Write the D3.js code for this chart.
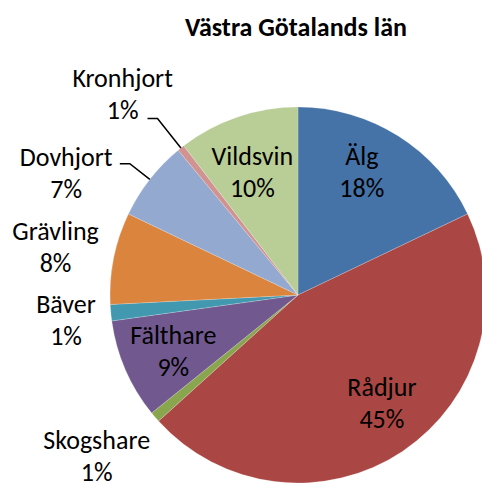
<!DOCTYPE html>
<html>
<head>
<meta charset="utf-8">
<script src="https://cdn.jsdelivr.net/npm/d3@7"></script>
<style>
  body { margin: 0; background: #fff; }
  text { font-family: Carlito, Calibri, Lato, sans-serif; fill: #000; }
</style>
</head>
<body>
<div id="chart"></div>
<script>
// data
const categories = ['Älg', 'Rådjur', 'Skogshare', 'Fälthare', 'Bäver', 'Grävling', 'Dovhjort', 'Kronhjort', 'Vildsvin'];
const values = [17.9, 45.4, 0.9, 8.6, 1.4, 7.9, 6.9, 0.6, 10.4];
const colors = ['#4572A7', '#AA4643', '#89A54E', '#71588F', '#4198AF', '#DB843D', '#93A9CF', '#D19392', '#B9CD96'];
const title = 'Västra Götalands län';

// label placement: radius as share of pie radius, angle shift from slice middle (deg)
const labelRadius = [0.695, 0.766, 1.40, 0.748, 1.247, 1.306, 1.372, 1.383, 0.653];
const labelShift = [-3, -1.8, 0.4, -4.1, -2.9, -2.25, -12, -3.9, -3.1];
// leader lines only for the two small ones at the top left
const leaderElbow = {Dovhjort: 1.135, Kronhjort: 1.2};

const width = 482;
const height = 483;
const cx = 298, cy = 295, radius = 188;

const svg = d3.select('#chart')
  .append('svg')
  .attr('width', width)
  .attr('height', height);

svg.append('text')
  .attr('x', 296)
  .attr('y', 36)
  .attr('text-anchor', 'middle')
  .style('font-size', '26px')
  .style('font-weight', 'bold')
  .text(title);

const g = svg.append('g')
  .attr('transform', 'translate(' + cx + ',' + cy + ')');

const data = categories.map((c, i) => ({name: c, value: values[i], color: colors[i], i: i}));
const total = d3.sum(values);

const pie = d3.pie()
  .sort(null)
  .value(d => d.value);

const arc = d3.arc()
  .innerRadius(0)
  .outerRadius(radius);

const arcs = pie(data);

g.selectAll('path')
  .data(arcs)
  .enter()
  .append('path')
  .attr('d', arc)
  .style('fill', d => d.data.color)
  .style('stroke', '#fff')
  .style('stroke-opacity', 0.4)
  .style('stroke-width', 0.5);

// polar helper, angle in radians clockwise from 12 o'clock
function polar(a, r) {
  return [Math.sin(a) * r, -Math.cos(a) * r];
}

const toRad = Math.PI / 180;

// leader lines
arcs.filter(d => leaderElbow[d.data.name]).forEach(d => {
  const mid = (d.startAngle + d.endAngle) / 2;
  const p0 = polar(mid, radius);
  const p1 = polar(mid, radius * leaderElbow[d.data.name]);
  const p2 = [p1[0] - 10, p1[1]];
  g.append('path')
    .attr('d', d3.line()([p0, p1, p2]))
    .style('fill', 'none')
    .style('stroke', '#000')
    .style('stroke-width', 1.5);
});

const labels = g.selectAll('.lbl')
  .data(arcs)
  .enter()
  .append('text')
  .attr('class', 'lbl')
  .attr('text-anchor', 'middle')
  .style('font-size', '26px')
  .attr('transform', d => {
    const mid = (d.startAngle + d.endAngle) / 2 + labelShift[d.data.i] * toRad;
    const p = polar(mid, radius * labelRadius[d.data.i]);
    return 'translate(' + p[0] + ',' + p[1] + ')';
  });

labels.append('tspan')
  .attr('x', 0)
  .attr('y', -16)
  .text(d => d.data.name);

labels.append('tspan')
  .attr('x', 0)
  .attr('y', 16)
  .text(d => Math.round(d.data.value / total * 100) + '%');
</script>
</body>
</html>
